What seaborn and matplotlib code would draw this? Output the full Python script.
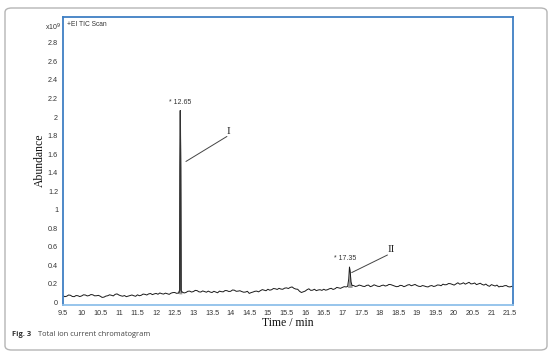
import numpy as np
import pandas as pd
import matplotlib
matplotlib.use("Agg")
import matplotlib.pyplot as plt
import seaborn as sns
from matplotlib.patches import FancyBboxPatch

# ---- data ----
base_start = 9.5
base_step = 0.1
# baseline samples at 9.5, 9.6, ... (None = covered by a peak)
baseline = [
    0.070, 0.065, 0.075, 0.060, 0.070, 0.068, 0.078, 0.072, 0.080, 0.070,
    0.065, 0.055, 0.070, 0.075, 0.085, 0.078, 0.065, 0.060, 0.072, 0.070,
    0.080, 0.075, 0.085, 0.090, 0.082, 0.095, 0.100, 0.088, 0.092, 0.098,
    0.105, 0.100, 0.110, 0.105, 0.120, 0.115, 0.125, 0.110, 0.115, 0.120,
    0.105, 0.110, 0.120, 0.112, 0.125, 0.118, 0.130, 0.120, 0.115, 0.110,
    0.095, 0.110, 0.120, 0.125, 0.130, 0.140, 0.135, 0.145, 0.150, 0.140,
    0.155, 0.160, 0.150, 0.140, 0.105, 0.120, 0.145, 0.130, 0.125, 0.135,
    0.140, 0.135, 0.150, 0.145, 0.155, 0.160, 0.165, None, 0.180, 0.175,
    0.180, 0.170, 0.185, 0.175, 0.180, 0.170, 0.185, 0.180, 0.190, 0.175,
    0.170, 0.180, 0.175, 0.190, 0.185, 0.180, 0.170, 0.175, 0.165, 0.180,
    0.175, 0.185, 0.195, 0.190, 0.200, 0.185, 0.210, 0.200, 0.195, 0.215,
    0.200, 0.190, 0.205, 0.185, 0.180, 0.190, 0.175, 0.165, 0.170, 0.180,
    0.165, 0.160,
]
# baseline samples half way between, at 9.55, 9.65, ...
baseline_mid = [
    0.060, 0.078, 0.062, 0.072, 0.061, 0.080, 0.068, 0.083, 0.069, 0.074,
    0.052, 0.066, 0.080, 0.068, 0.090, 0.070, 0.072, 0.066, 0.078, 0.064,
    0.070, 0.088, 0.078, 0.094, 0.090, 0.086, 0.092, 0.098, 0.085, 0.104,
    0.096, None, 0.100, 0.118, 0.110, 0.128, 0.112, 0.122, 0.108, 0.110,
    0.118, 0.102, 0.114, 0.126, 0.116, 0.132, 0.118, 0.124, 0.108, 0.118,
    0.104, 0.118, 0.112, 0.136, 0.124, 0.130, 0.148, 0.138, 0.142, 0.152,
    0.148, 0.165, 0.142, 0.118, 0.112, 0.135, 0.128, 0.140, 0.132, 0.128,
    0.130, 0.145, 0.138, 0.160, 0.150, 0.168, None, None, 0.170, 0.185,
    0.172, 0.182, 0.168, 0.188, 0.172, 0.180, 0.175, 0.192, 0.182, 0.168,
    0.182, 0.168, 0.186, 0.178, 0.192, 0.172, 0.180, 0.168, 0.176, 0.170,
    0.186, 0.178, 0.188, 0.202, 0.192, 0.198, 0.195, 0.210, 0.205, 0.198,
    0.208, 0.198, 0.192, 0.196, 0.172, 0.182, 0.185, 0.172, 0.178, 0.168,
    0.172,
]
peak1_t = [12.61, 12.63, 12.64, 12.65, 12.66, 12.67, 12.69]
peak1_v = [0.100, 0.130, 1.450, 2.070, 1.450, 0.130, 0.110]
peak2_t = [17.14, 17.17, 17.19, 17.21, 17.23, 17.26]
peak2_v = [0.170, 0.250, 0.380, 0.330, 0.220, 0.180]

x_ticks = [9.5, 10, 10.5, 11, 11.5, 12, 12.5, 13, 13.5, 14, 14.5, 15, 15.5,
           16, 16.5, 17, 17.5, 18, 18.5, 19, 19.5, 20, 20.5, 21, 21.5]
y_ticks = [0, 0.2, 0.4, 0.6, 0.8, 1, 1.2, 1.4, 1.6, 1.8, 2, 2.2, 2.4, 2.6, 2.8]
peak_labels = ["* 12.65", "* 17.35"]
peak_ids = ["I", "II"]

# ---- build table ----
bt = [round(base_start + base_step * i, 3) for i in range(len(baseline))]
mt = [round(base_start + base_step * (i + 0.5), 3) for i in range(len(baseline_mid))]
rows = [(t, v) for t, v in zip(bt, baseline) if v is not None]
rows += [(t, v) for t, v in zip(mt, baseline_mid) if v is not None]
rows += list(zip(peak1_t, peak1_v)) + list(zip(peak2_t, peak2_v))
df = pd.DataFrame(rows, columns=["time", "abundance"]).sort_values("time")

sns.set_style("white")
plt.rcParams["font.family"] = ["Liberation Sans", "DejaVu Sans"]

fig = plt.figure(figsize=(5.54, 3.56), dpi=100)
W, H = 554, 356

# outer rounded frame
frame = FancyBboxPatch((5 / W, 6 / H), 542 / W, 342 / H,
                       boxstyle="round,pad=0,rounding_size=0.012",
                       transform=fig.transFigure, fill=False,
                       edgecolor="#b5b5b5", linewidth=1.0)
fig.patches.append(frame)

ax = fig.add_axes([63 / W, (H - 305) / H, 450 / W, 288 / H])
sns.lineplot(data=df, x="time", y="abundance", ax=ax, color="#1a1a1a",
             linewidth=0.7, estimator=None, sort=True)
ax.fill_between(peak1_t, peak1_v, 0.09, color="#9a9a9a", linewidth=0)
ax.fill_between(peak2_t, peak2_v, 0.16, color="#9a9a9a", linewidth=0)
sns.lineplot(x=peak1_t, y=peak1_v, ax=ax, color="#333333", linewidth=0.8,
             estimator=None, sort=False)

ax.set_xlim(9.5, 21.58)
ax.set_ylim(-0.03, 3.08)
ax.set_xticks(x_ticks)
ax.set_xticklabels([f"{t:g}" for t in x_ticks])
ax.set_yticks(y_ticks)
ax.set_yticklabels([f"{t:g}" for t in y_ticks])
ax.tick_params(axis="both", labelsize=5.2, length=2, width=0.6,
               colors="#333333", pad=1.5, direction="out")
ax.set_xlabel("")
ax.set_ylabel("")
for s in ax.spines.values():
    s.set_color("#3f7fc4")
    s.set_linewidth(1.3)
ax.spines["bottom"].set_color("#8fc0ea")

# annotations
ax.text(12.65, 2.12, peak_labels[0], fontsize=5, ha="center", va="bottom",
        color="#333333")
ax.text(17.08, 0.43, peak_labels[1], fontsize=5, ha="center", va="bottom",
        color="#333333")
ax.plot([12.80, 13.90], [1.52, 1.79], color="#444444", linewidth=0.7)
ax.plot([17.25, 18.21], [0.32, 0.51], color="#444444", linewidth=0.7)
ax.text(13.93, 1.80, peak_ids[0], fontsize=8, family="Liberation Serif",
        ha="center", va="bottom", color="#222222")
ax.text(18.30, 0.52, peak_ids[1], fontsize=8, family="Liberation Serif",
        ha="center", va="bottom", color="#222222")
ax.text(0.008, 0.985, "+EI TIC Scan", transform=ax.transAxes, fontsize=4.8,
        ha="left", va="top", color="#333333")

fig.text(61 / W, 1 - 27 / H, r"x10$^{9}$", fontsize=5, ha="right",
         va="center", color="#333333")
fig.text(40 / W, 1 - 160 / H, "Abundance", rotation=90, fontsize=8.5,
         family="Liberation Serif", ha="center", va="center", color="#111111")
fig.text(288 / W, 1 - 323 / H, "Time / min", fontsize=8.5,
         family="Liberation Serif", ha="center", va="center", color="#111111")
fig.text(12 / W, 1 - 335 / H, "Fig. 3", fontsize=5.4, fontweight="bold",
         family=["Open Sans", "DejaVu Sans"],
         ha="left", va="center", color="#333333")
fig.text(38 / W, 1 - 335 / H, "Total ion current chromatogram", fontsize=5.4,
         family=["Open Sans", "DejaVu Sans"],
         ha="left", va="center", color="#444444")

fig.savefig("out.png", dpi=100)
